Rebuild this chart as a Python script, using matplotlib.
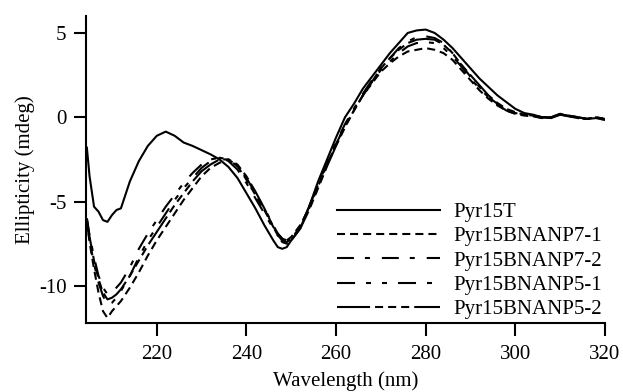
import matplotlib
matplotlib.use('Agg')
import matplotlib.pyplot as plt

plt.rcParams['font.family'] = ['Liberation Serif', 'DejaVu Serif']
plt.rcParams['lines.scale_dashes'] = False

# wavelength grid (nm)
wavelength = [204.4, 205, 206, 207, 208, 209, 210, 211, 212, 214, 216, 218, 220, 222, 224,
              226, 228, 230, 232, 234, 236, 238, 240, 242, 244, 246, 247, 248, 249, 250,
              252, 254, 256, 258, 260, 262, 264, 266, 268, 270, 272, 274, 276, 278, 280,
              282, 284, 286, 288, 290, 292, 294, 296, 298, 300, 302, 304, 306, 308, 310,
              312, 314, 316, 318, 320]

# ellipticity (mdeg)
pyr15t = [-1.8, -3.5, -5.3, -5.6, -6.1, -6.2, -5.8, -5.5, -5.4, -3.8, -2.6, -1.7, -1.1, -0.85, -1.1,
          -1.5, -1.7, -1.95, -2.2, -2.5, -2.95, -3.6, -4.5, -5.4, -6.4, -7.3, -7.7, -7.8, -7.7, -7.3,
          -6.6, -5.3, -3.8, -2.5, -1.2, 0.0, 0.8, 1.7, 2.4, 3.1, 3.8, 4.4, 5.0, 5.15, 5.2,
          5.0, 4.6, 4.1, 3.5, 2.9, 2.3, 1.8, 1.3, 0.9, 0.5, 0.25, 0.15, 0.0, -0.05, 0.15,
          0.1, 0.0, -0.1, -0.05, -0.15]
bnanp7_1 = [-6.1, -7.4, -9.0, -10.4, -11.5, -11.9, -11.5, -11.2, -10.9, -10.1, -9.2, -8.2, -7.3, -6.5, -5.7,
            -4.9, -4.2, -3.5, -3.0, -2.7, -2.5, -2.9, -3.7, -4.6, -5.5, -6.5, -6.9, -7.2, -7.3, -7.1,
            -6.4, -5.4, -4.1, -2.8, -1.6, -0.5, 0.4, 1.3, 2.0, 2.7, 3.2, 3.6, 3.9, 4.0, 4.1,
            4.0, 3.8, 3.4, 2.8, 2.2, 1.6, 1.1, 0.7, 0.4, 0.2, 0.1, 0.05, -0.05, 0.0, 0.2,
            0.05, -0.05, -0.1, 0.0, -0.1]
bnanp7_2 = [-6.0, -7.0, -8.3, -9.4, -10.1, -10.5, -10.4, -10.1, -9.8, -8.9, -7.8, -6.9, -6.1, -5.3, -4.6,
            -3.9, -3.3, -2.8, -2.5, -2.4, -2.6, -3.1, -3.9, -4.8, -5.7, -6.6, -7.0, -7.3, -7.4, -7.2,
            -6.5, -5.3, -4.0, -2.7, -1.5, -0.4, 0.5, 1.4, 2.2, 2.9, 3.5, 4.1, 4.5, 4.75, 4.8,
            4.7, 4.4, 3.8, 3.1, 2.4, 1.8, 1.2, 0.8, 0.45, 0.25, 0.15, 0.1, 0.0, 0.0, 0.2,
            0.1, 0.0, -0.1, -0.05, -0.15]
bnanp5_1 = [-6.2, -7.3, -8.7, -9.8, -10.6, -11.1, -11.0, -10.7, -10.3, -9.4, -8.3, -7.3, -6.5, -5.7, -4.9,
            -4.2, -3.6, -3.0, -2.6, -2.4, -2.5, -2.9, -3.6, -4.5, -5.4, -6.4, -6.9, -7.2, -7.3, -7.2,
            -6.5, -5.3, -4.0, -2.8, -1.6, -0.5, 0.5, 1.3, 2.1, 2.8, 3.3, 3.8, 4.2, 4.4, 4.45,
            4.4, 4.1, 3.6, 3.0, 2.3, 1.7, 1.2, 0.75, 0.4, 0.2, 0.15, 0.1, -0.05, 0.05, 0.15,
            0.05, -0.05, -0.1, -0.05, -0.1]
bnanp5_2 = [-6.0, -7.1, -8.5, -9.6, -10.4, -10.8, -10.7, -10.5, -10.2, -9.4, -8.5, -7.6, -6.8, -6.0, -5.2,
            -4.5, -3.8, -3.2, -2.8, -2.5, -2.5, -2.8, -3.5, -4.4, -5.4, -6.5, -7.0, -7.4, -7.5, -7.3,
            -6.6, -5.5, -4.2, -2.9, -1.7, -0.6, 0.4, 1.3, 2.1, 2.9, 3.5, 4.0, 4.4, 4.6, 4.65,
            4.6, 4.3, 3.8, 3.1, 2.5, 1.9, 1.3, 0.85, 0.5, 0.3, 0.15, 0.1, 0.0, 0.0, 0.2,
            0.05, 0.0, -0.1, 0.0, -0.1]

labels = ['Pyr15T', 'Pyr15BNANP7-1', 'Pyr15BNANP7-2', 'Pyr15BNANP5-1', 'Pyr15BNANP5-2']
series = [pyr15t, bnanp7_1, bnanp7_2, bnanp5_1, bnanp5_2]
# dash patterns in points
styles = ['-',
          (0, (5.8, 3.6)),
          (0, (12.2, 7.9, 3.6, 8.6)),
          (0, (13, 7.9, 3.6, 7.9, 3.6, 7.9)),
          (0, (23.8, 3.6, 5.8, 3.6, 5.8, 3.6, 5.8, 3.6))]

fig = plt.figure(figsize=(6.23, 3.92), dpi=100)
ax = fig.add_axes([0.138, 0.176, 0.833, 0.783])

for y, lab, ls in zip(series, labels, styles):
    ax.plot(wavelength, y, color='black', linestyle=ls, linewidth=1.5, label=lab)

ax.set_xlim(204.2, 320)
ax.set_ylim(-12.2, 6.0)
ax.set_xticks([220, 240, 260, 280, 300, 320])
ax.set_yticks([-10, -5, 0, 5])
ax.set_yticklabels(['-10', '-5', '0', '5'])

ax.spines['top'].set_visible(False)
ax.spines['right'].set_visible(False)
ax.spines['left'].set_linewidth(1.5)
ax.spines['bottom'].set_linewidth(1.5)
ax.tick_params(direction='out', length=9, width=1.5, labelsize=15, pad=5)
ax.tick_params(axis='x', pad=7)

ax.set_xlabel('Wavelength (nm)', fontsize=15, labelpad=5)
ax.set_ylabel('Ellipticity (mdeg)', fontsize=15, labelpad=3)

ax.legend(loc='lower left', bbox_to_anchor=(0.541, 0.185), bbox_transform=fig.transFigure,
          frameon=False, fontsize=15, handlelength=4.95, handletextpad=0.62,
          labelspacing=0.23, borderpad=0, borderaxespad=0)

fig.savefig('out.png', dpi=100, facecolor='white')
